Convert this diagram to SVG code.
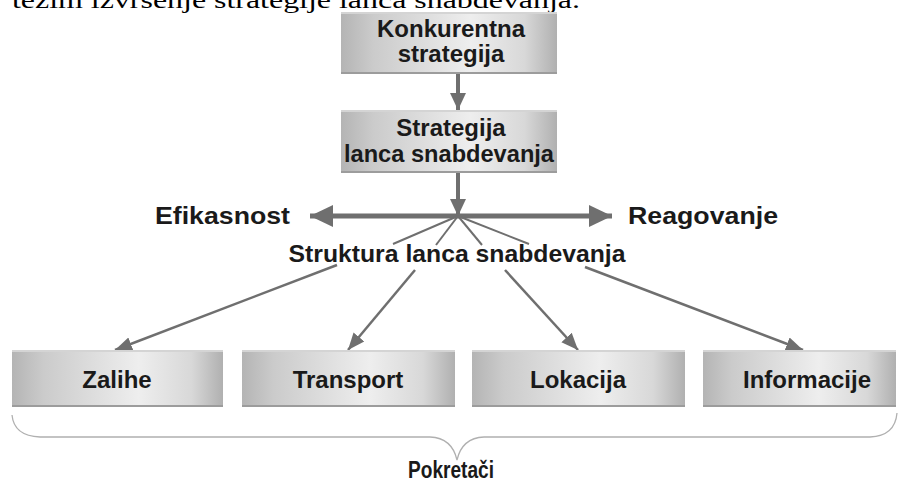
<svg xmlns="http://www.w3.org/2000/svg" width="901" height="483" viewBox="0 0 901 483">
<defs>
<linearGradient id="boxg" x1="0" y1="0" x2="1" y2="0">
<stop offset="0" stop-color="#b4b4b4"/>
<stop offset="0.15" stop-color="#cbcbcb"/>
<stop offset="0.6" stop-color="#eeeeee"/>
<stop offset="0.85" stop-color="#d8d8d8"/>
<stop offset="1" stop-color="#b0b0b0"/>
</linearGradient>
<marker id="ah" markerUnits="userSpaceOnUse" markerWidth="18" markerHeight="18" viewBox="0 0 18 18" refX="17" refY="9" orient="auto">
<path d="M0,1 L17,9 L0,17 Z" fill="#6f6f6f"/>
</marker>
<marker id="ahs" markerUnits="userSpaceOnUse" markerWidth="18" markerHeight="18" viewBox="0 0 18 18" refX="17" refY="9" orient="auto">
<path d="M0,2 L17,9 L0,16 Z" fill="#6f6f6f"/>
</marker>
<marker id="ahb" markerUnits="userSpaceOnUse" markerWidth="24" markerHeight="24" viewBox="0 0 24 24" refX="23" refY="12" orient="auto">
<path d="M0,1 L23,12 L0,23 Z" fill="#6f6f6f"/>
</marker>
</defs>
<style>
.box{fill:url(#boxg);}
.top{stroke:#d4d4d4;stroke-width:2;}
.bot{stroke:#9c9c9c;stroke-width:2;}
.lbl{font-family:"Liberation Sans",Arial,sans-serif;font-weight:bold;font-size:24px;fill:#1a1a1a;text-anchor:middle;}
.side{font-family:"Liberation Sans",Arial,sans-serif;font-weight:bold;font-size:24px;fill:#1a1a1a;}
.c{stroke:#6f6f6f;fill:none;}
</style>
<rect width="901" height="483" fill="#ffffff"/>
<text x="12" y="8" font-family="'Liberation Serif','Times New Roman',serif" font-size="24" fill="#000" textLength="568" lengthAdjust="spacingAndGlyphs">težim izvršenje strategije lanca snabdevanja.</text>

<g id="connectors">
<line class="c" x1="458" y1="74" x2="458" y2="110" stroke-width="4" marker-end="url(#ah)"/>
<line class="c" x1="458" y1="173" x2="458" y2="216" stroke-width="4" marker-end="url(#ah)"/>
<line class="c" x1="458" y1="216" x2="310" y2="216" stroke-width="5" marker-end="url(#ahb)"/>
<line class="c" x1="458" y1="216" x2="612" y2="216" stroke-width="5" marker-end="url(#ahb)"/>
<line class="c" x1="458" y1="216" x2="393" y2="244" stroke-width="2"/>
<line class="c" x1="458" y1="216" x2="436" y2="245" stroke-width="2"/>
<line class="c" x1="458" y1="216" x2="482" y2="245" stroke-width="2"/>
<line class="c" x1="458" y1="216" x2="529" y2="244" stroke-width="2"/>
<line class="c" x1="337" y1="265" x2="115" y2="350" stroke-width="2.5" marker-end="url(#ahs)"/>
<line class="c" x1="415" y1="270" x2="348" y2="350" stroke-width="2.5" marker-end="url(#ahs)"/>
<line class="c" x1="505" y1="270" x2="578" y2="350" stroke-width="2.5" marker-end="url(#ahs)"/>
<line class="c" x1="585" y1="267" x2="803" y2="350" stroke-width="2.5" marker-end="url(#ahs)"/>
</g>

<g id="konkurentna">
<rect class="box" x="341" y="12" width="216" height="62"/>
<line class="top" x1="341" y1="13" x2="557" y2="13"/>
<line class="bot" x1="341" y1="73" x2="557" y2="73"/>
<text class="lbl" x="451" y="37">Konkurentna</text>
<text class="lbl" x="451" y="62">strategija</text>
</g>
<g id="strategija">
<rect class="box" x="341" y="110" width="216" height="63"/>
<line class="top" x1="341" y1="111" x2="557" y2="111"/>
<line class="bot" x1="341" y1="172" x2="557" y2="172"/>
<text class="lbl" x="451" y="136">Strategija</text>
<text class="lbl" x="449" y="162" textLength="210" lengthAdjust="spacingAndGlyphs">lanca snabdevanja</text>
</g>
<g id="efikasnost">
<text class="side" x="155" y="224" textLength="135" lengthAdjust="spacingAndGlyphs">Efikasnost</text>
</g>
<g id="reagovanje">
<text class="side" x="628" y="224" textLength="150" lengthAdjust="spacingAndGlyphs">Reagovanje</text>
</g>
<g id="struktura">
<text class="lbl" x="457" y="262" textLength="337" lengthAdjust="spacingAndGlyphs">Struktura lanca snabdevanja</text>
</g>
<g id="zalihe">
<rect class="box" x="12" y="350" width="211" height="57"/>
<line class="top" x1="12" y1="351" x2="223" y2="351"/>
<line class="bot" x1="12" y1="406" x2="223" y2="406"/>
<text class="lbl" x="117" y="388">Zalihe</text>
</g>
<g id="transport">
<rect class="box" x="242" y="350" width="213" height="57"/>
<line class="top" x1="242" y1="351" x2="455" y2="351"/>
<line class="bot" x1="242" y1="406" x2="455" y2="406"/>
<text class="lbl" x="348" y="388">Transport</text>
</g>
<g id="lokacija">
<rect class="box" x="472" y="350" width="213" height="57"/>
<line class="top" x1="472" y1="351" x2="685" y2="351"/>
<line class="bot" x1="472" y1="406" x2="685" y2="406"/>
<text class="lbl" x="578" y="388">Lokacija</text>
</g>
<g id="informacije">
<rect class="box" x="703" y="350" width="193" height="57"/>
<line class="top" x1="703" y1="351" x2="896" y2="351"/>
<line class="bot" x1="703" y1="406" x2="896" y2="406"/>
<text class="lbl" x="807" y="388">Informacije</text>
</g>
<g id="pokretaci">
<path d="M12,415 Q14,436 40,437 L430,437 Q452,438 457,460 Q462,438 484,437 L870,437 Q895,436 897,413" fill="none" stroke="#b0b0b0" stroke-width="1.3"/>
<text class="lbl" x="451" y="478" textLength="86" lengthAdjust="spacingAndGlyphs">Pokretači</text>
</g>
</svg>
